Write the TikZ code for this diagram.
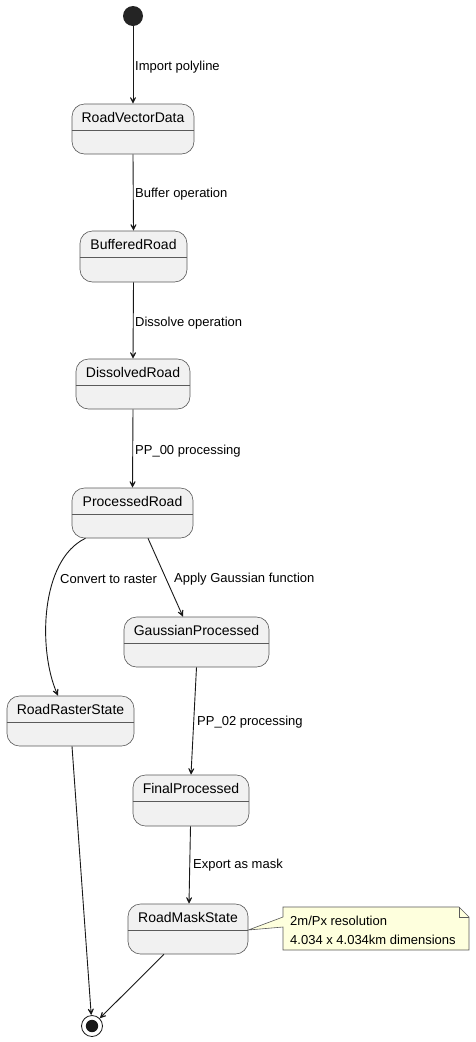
\documentclass[tikz,border=0pt]{standalone}
\usepackage{fontspec}
\setmainfont{Liberation Sans}
\usetikzlibrary{arrows.meta,calc}
\definecolor{stfill}{HTML}{F1F1F1}
\definecolor{stline}{HTML}{181818}
\definecolor{bdline}{HTML}{5A5A5A}
\definecolor{notefill}{HTML}{FEFFDD}
\tikzset{
  statebox/.style={draw=bdline, line width=0.6pt, fill=stfill, rounded corners=12.5pt, inner sep=0pt},
  stname/.style={font=\fontsize{14}{16}\selectfont, inner sep=0pt},
  elabel/.style={font=\fontsize{13}{15}\selectfont, inner sep=0pt, anchor=west},
  trans/.style={draw=stline, line width=0.9pt, -{Stealth[length=10pt,width=10pt,inset=6.5pt]}},
}
\newcommand{\mkstate}[7]{% name, cx, cy, w, h, label
  \node[statebox, minimum width=#4pt, minimum height=#5pt] (#1) at (#2,#3) {};
  \draw[bdline, line width=0.6pt] ([yshift=-27pt]#1.north west) -- ([yshift=-27pt]#1.north east);
  \node[stname] (#1-t) at ($(#1.north)+(0,14)$) {#6};
}
\begin{document}
\begin{tikzpicture}[x=1pt,y=-1pt]
\useasboundingbox (0,0) rectangle (475,1042);
\fill[white] (0,0) rectangle (475,1042);
% start / end
\node[circle, fill=stline!95, minimum size=20pt, inner sep=0pt] (start) at (133,16) {};
\node[circle, draw=stline, line width=0.8pt, fill=white, minimum size=21pt, inner sep=0pt] (end) at (92,1026) {};
\fill[stline] (end.center) circle (6.2pt);
% states
\mkstate{rvd}{133}{129}{122}{50}{RoadVectorData}{}
\mkstate{br}{133.5}{256.5}{107}{51}{BufferedRoad}{}
\mkstate{dr}{133}{384}{114}{50}{DissolvedRoad}{}
\mkstate{pr}{132.5}{513}{121}{50}{ProcessedRoad}{}
\mkstate{gp}{196.5}{642}{145}{50}{GaussianProcessed}{}
\mkstate{rrs}{70.5}{721}{127}{50}{RoadRasterState}{}
\mkstate{fp}{191}{800.5}{116}{51}{FinalProcessed}{}
\mkstate{rms}{188}{929}{120}{50}{RoadMaskState}{}
% transitions
\draw[trans] (start) -- (rvd.north);
\draw[trans] (rvd.south) -- (br.north);
\draw[trans] (br.south) -- (dr.north);
\draw[trans] (dr.south) -- (pr.north);
\draw[trans] ([xshift=-47pt]pr.south) .. controls (40,560) and (38,650) .. ([xshift=-12.5pt]rrs.north);
\draw[trans] ([xshift=15.5pt]pr.south) -- ([xshift=-13.5pt]gp.north);
\draw[trans] (gp.south) -- (fp.north);
\draw[trans] ([xshift=-0.5pt]fp.south) -- ([xshift=1pt]rms.north);
\draw[trans] ([xshift=1.5pt]rrs.south) -- (end);
\draw[trans] ([xshift=-24pt]rms.south) -- (end);
% labels
\node[elabel] (l1) at (135,67.5) {Import polyline};
\node[elabel] (l2) at (135,194.5) {Buffer operation};
\node[elabel] (l3) at (135,323.5) {Dissolve operation};
\node[elabel] (l4) at (135,451.5) {PP\_00 processing};
\node[elabel] (l5) at (60,579.5) {Convert to raster};
\node[elabel] (l6) at (174,579.5) {Apply Gaussian function};
\node[elabel] (l7) at (197,722.5) {PP\_02 processing};
\node[elabel] (l8) at (193,865.5) {Export as mask};
% note
\draw[bdline, line width=0.6pt, fill=notefill] (283,907) -- (459,907) -- (469,917) -- (469,950) -- (283,950) -- (283,927) -- (rms.east |- 0,930) -- (283,917) -- cycle;
\draw[bdline, line width=0.6pt] (459,907) -- (459,917) -- (469,917);
\node[elabel, align=left, anchor=north west, font=\fontsize{13}{19}\selectfont] (note) at (290,915.5) {2m/Px resolution\\4.034 x 4.034km dimensions};
\end{tikzpicture}
\end{document}
